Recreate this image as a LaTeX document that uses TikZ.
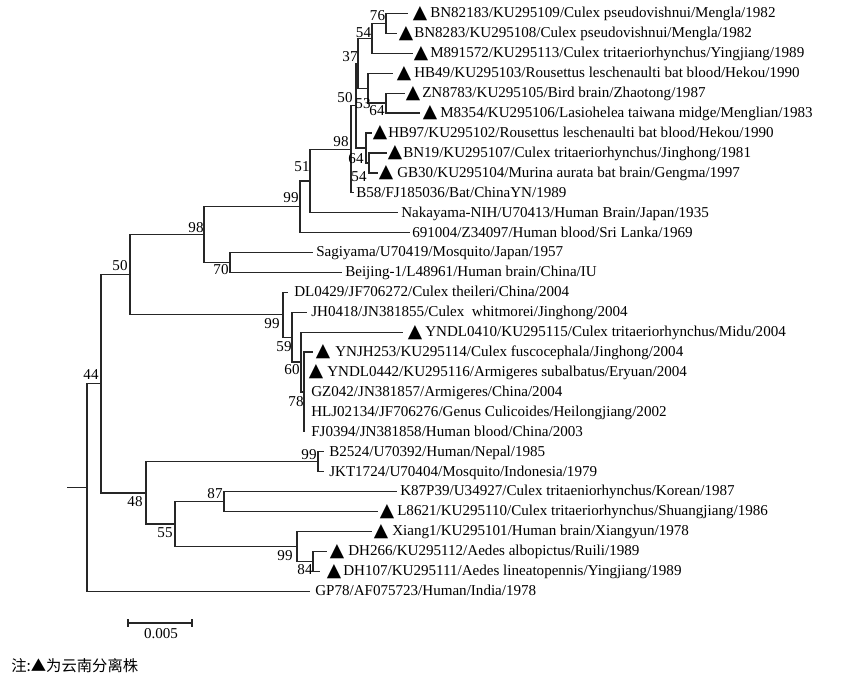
\documentclass[tikz,border=0pt]{standalone}
\usepackage{fontspec}
\setmainfont{Liberation Serif}
\newfontfamily\symf{DejaVu Sans}
\newfontfamily\cjkf{Noto Sans CJK SC}
\newcommand\leafT[6]{%
  \pgfmathsetmacro\yy{13.5+19.92*(#1-1)}%
  \coordinate (e#1) at (#3,\yy);
  \draw[br] (#2) |- (e#1);
  \node[tri] (t#1) at (#4,\yy) {▲};
  \node[lab] (l#1) at (#5,\yy) {#6};
}
\newcommand\leafN[5]{%
  \pgfmathsetmacro\yy{13.5+19.92*(#1-1)}%
  \coordinate (e#1) at (#3,\yy);
  \draw[br] (#2) |- (e#1);
  \node[lab] (l#1) at (#4,\yy) {#5};
}
\begin{document}
\begin{tikzpicture}[x=0.75pt,y=-0.75pt,
  br/.style={line width=1pt,draw=black!85},
  lab/.style={anchor=west,inner sep=0pt,text height=0.66em,text depth=0pt,font=\fontsize{11.3}{13}\selectfont},
  bs/.style={anchor=center,inner sep=0pt,text height=0.66em,text depth=0pt,font=\fontsize{11.3}{13}\selectfont},
  tri/.style={anchor=center,inner sep=0pt,font=\symf\fontsize{14}{14}\selectfont}]
\useasboundingbox (0,0) rectangle (843,677);
% internal nodes
\coordinate (n76) at (386,23.45);
\coordinate (n54a) at (372,38.4);
\coordinate (n64a) at (386,103.15);
\coordinate (n53) at (368,88.2);
\coordinate (n37) at (358,63.3);
\coordinate (n54b) at (369,162.9);
\coordinate (n64b) at (366,148);
\coordinate (n50a) at (356,105.6);
\coordinate (n98a) at (351,149.2);
\coordinate (n51) at (310,181);
\coordinate (n99a) at (300,206.8);
\coordinate (n70) at (230,262.5);
\coordinate (n98b) at (204,234.6);
\coordinate (n78) at (304,392);
\coordinate (n60) at (301,362.1);
\coordinate (n59) at (292,337.2);
\coordinate (n99b) at (283,314.8);
\coordinate (n50b) at (130,274.7);
\coordinate (n99c) at (318,461.7);
\coordinate (n87) at (224,501.6);
\coordinate (n84) at (313,561.3);
\coordinate (n99d) at (297,546.4);
\coordinate (n55) at (175,524);
\coordinate (n48) at (146,492.9);
\coordinate (n44) at (101,383.8);
\coordinate (root) at (87,487.5);
\coordinate (r0) at (67,487.5);
% internal branches
\draw[br] (r0) -- (root);
\draw[br] (root) |- (n44);
\draw[br] (n44) |- (n50b);
\draw[br] (n44) |- (n48);
\draw[br] (n50b) |- (n98b);
\draw[br] (n50b) |- (n99b);
\draw[br] (n98b) |- (n99a);
\draw[br] (n98b) |- (n70);
\draw[br] (n99a) |- (n51);
\draw[br] (n51) |- (n98a);
\draw[br] (n98a) |- (n50a);
\draw[br] (n50a) |- (n37);
\draw[br] (n50a) |- (n64b);
\draw[br] (n37) |- (n54a);
\draw[br] (n37) |- (n53);
\draw[br] (n54a) |- (n76);
\draw[br] (n53) |- (n64a);
\draw[br] (n64b) |- (n54b);
\draw[br] (n99b) |- (n59);
\draw[br] (n59) |- (n60);
\draw[br] (n60) |- (n78);
\draw[br] (n48) |- (n99c);
\draw[br] (n48) |- (n55);
\draw[br] (n55) |- (n87);
\draw[br] (n55) |- (n99d);
\draw[br] (n99d) |- (n84);
% leaves
\leafT{1}{n76}{408}{420}{430}{BN82183/KU295109/Culex pseudovishnui/Mengla/1982}
\leafT{2}{n76}{397}{406}{414}{BN8283/KU295108/Culex pseudovishnui/Mengla/1982}
\leafT{3}{n54a}{413}{421}{430}{M891572/KU295113/Culex tritaeriorhynchus/Yingjiang/1989}
\leafT{4}{n53}{393}{404}{414}{HB49/KU295103/Rousettus leschenaulti bat blood/Hekou/1990}
\leafT{5}{n64a}{405}{413}{422}{ZN8783/KU295105/Bird brain/Zhaotong/1987}
\leafT{6}{n64a}{420}{430}{440}{M8354/KU295106/Lasiohelea taiwana midge/Menglian/1983}
\leafT{7}{n64b}{372}{380}{388}{HB97/KU295102/Rousettus leschenaulti bat blood/Hekou/1990}
\leafT{8}{n54b}{387}{395}{403}{BN19/KU295107/Culex tritaeriorhynchus/Jinghong/1981}
\leafT{9}{n54b}{378}{386}{397}{GB30/KU295104/Murina aurata bat brain/Gengma/1997}
\leafN{10}{n98a}{354}{356}{B58/FJ185036/Bat/ChinaYN/1989}
\leafN{11}{n51}{398}{401}{Nakayama-NIH/U70413/Human Brain/Japan/1935}
\leafN{12}{n99a}{410}{412}{691004/Z34097/Human blood/Sri Lanka/1969}
\leafN{13}{n70}{313}{316}{Sagiyama/U70419/Mosquito/Japan/1957}
\leafN{14}{n70}{342}{345}{Beijing-1/L48961/Human brain/China/IU}
\leafN{15}{n99b}{288}{294}{DL0429/JF706272/Culex theileri/China/2004}
\leafN{16}{n59}{307}{311}{JH0418/JN381855/Culex\ \ whitmorei/Jinghong/2004}
\leafT{17}{n60}{403}{415}{425}{YNDL0410/KU295115/Culex tritaeriorhynchus/Midu/2004}
\leafT{18}{n78}{313}{323}{335}{YNJH253/KU295114/Culex fuscocephala/Jinghong/2004}
\leafT{19}{n78}{304}{316}{327}{YNDL0442/KU295116/Armigeres subalbatus/Eryuan/2004}
\leafN{20}{n78}{304}{311}{GZ042/JN381857/Armigeres/China/2004}
\leafN{21}{n78}{304}{311}{HLJ02134/JF706276/Genus Culicoides/Heilongjiang/2002}
\leafN{22}{n78}{304}{311}{FJ0394/JN381858/Human blood/China/2003}
\leafN{23}{n99c}{324}{329}{B2524/U70392/Human/Nepal/1985}
\leafN{24}{n99c}{324}{329}{JKT1724/U70404/Mosquito/Indonesia/1979}
\leafN{25}{n87}{397}{400}{K87P39/U34927/Culex tritaeniorhynchus/Korean/1987}
\leafT{26}{n87}{378}{387}{397}{L8621/KU295110/Culex tritaeriorhynchus/Shuangjiang/1986}
\leafT{27}{n99d}{372}{381}{392}{Xiang1/KU295101/Human brain/Xiangyun/1978}
\leafT{28}{n84}{327}{337}{348}{DH266/KU295112/Aedes albopictus/Ruili/1989}
\leafT{29}{n84}{320}{334}{343}{DH107/KU295111/Aedes lineatopennis/Yingjiang/1989}
\leafN{30}{root}{310}{315}{GP78/AF075723/Human/India/1978}
% bootstrap values
\node[bs] (b76) at (377.5,16) {76};
\node[bs] (b54a) at (363.5,33) {54};
\node[bs] (b37) at (350,57.5) {37};
\node[bs] (b50a) at (345,98) {50};
\node[bs] (b53) at (363,104) {53};
\node[bs] (b64a) at (377,111) {64};
\node[bs] (b98a) at (341,142) {98};
\node[bs] (b64b) at (356,159) {64};
\node[bs] (b54b) at (359,177) {54};
\node[bs] (b51) at (302,167) {51};
\node[bs] (b99a) at (291,198) {99};
\node[bs] (b98b) at (196,228) {98};
\node[bs] (b70) at (221,270) {70};
\node[bs] (b50b) at (120,266) {50};
\node[bs] (b44) at (91,375) {44};
\node[bs] (b99b) at (272,324) {99};
\node[bs] (b59) at (284,347) {59};
\node[bs] (b60) at (292,370) {60};
\node[bs] (b78) at (296,402) {78};
\node[bs] (b99c) at (309,455) {99};
\node[bs] (b48) at (135,502) {48};
\node[bs] (b87) at (215,494) {87};
\node[bs] (b55) at (165,533) {55};
\node[bs] (b99d) at (285,556) {99};
\node[bs] (b84) at (305,570) {84};
% scale bar
\coordinate (s1) at (128,623);
\coordinate (s2) at (192,623);
\draw[br] (s1) -- (s2);
\draw[br] (s1) ++(0,-4) -- ++(0,8);
\draw[br] (s2) ++(0,-4) -- ++(0,8);
\node[bs] (sl) at (161,634) {0.005};
% note
\node[anchor=west,inner sep=0pt,font=\cjkf\fontsize{11.5}{13}\selectfont] (note) at (11,666) {注:▲为云南分离株};
\end{tikzpicture}
\end{document}
